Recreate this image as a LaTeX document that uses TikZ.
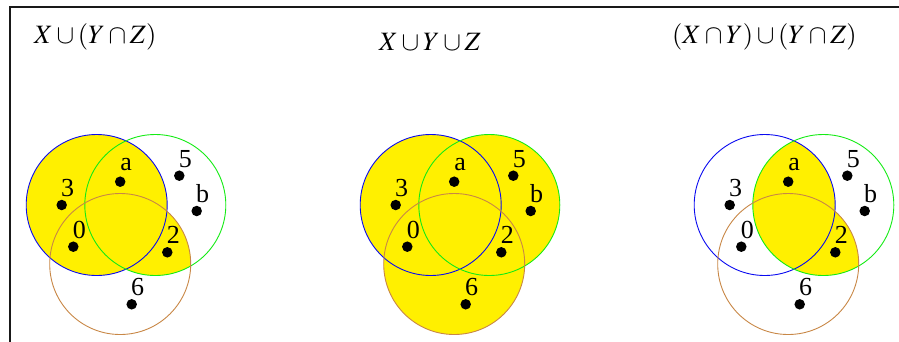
\documentclass[tikz,border=0pt]{standalone}
\usepackage{mathptmx}
\usepackage{fontspec}
\setmainfont{Liberation Serif}
\usepackage{xcolor}
\usetikzlibrary{positioning, calc}

\definecolor{vennyellow}{RGB}{255,240,0}
\definecolor{setX}{RGB}{10,10,240}
\definecolor{setY}{RGB}{20,235,20}
\definecolor{setZ}{RGB}{200,135,70}

\tikzset{
  %% Set outline
  setline/.style={draw=#1, line width=0.9pt},
  setline/.default=black,
  %% Shaded region
  shaded/.style={fill=vennyellow},
  %% Element of a set
  elem/.style={circle, fill=black, inner sep=0pt, minimum size=10.5pt},
  elemlbl/.style={inner sep=0pt, font=\fontsize{26}{30}\selectfont},
  %% Panel title
  paneltitle/.style={anchor=west, inner sep=0pt,
                     font=\fontsize{26.5}{30}\selectfont},
}

\begin{document}
\begin{tikzpicture}[x=1pt, y=-1pt]
  \useasboundingbox (0,0) rectangle (899,341);

  %% Frame
  \draw[line width=2pt, black!90] (10,342) -- (10,6.5) -- (899,6.5);

  %% Titles
  \node[paneltitle] (t1) at (34,37) {$X\cup(Y\cap Z)$};
  \node[paneltitle] (t2) at (379,42) {$X\cup Y\cup Z$};
  \node[paneltitle] (t3) at (672,37) {$(X\cap Y)\cup(Y\cap Z)$};

  %% Shading: X u (Y n Z)
  \begin{scope}[shift={(96.7,205)}]
    \fill[shaded] (0,0) circle (70.5);
    \begin{scope}
      \clip (58.6,0) circle (70.5);
      \fill[shaded] (23.5,59) circle (70.5);
    \end{scope}
  \end{scope}

  %% Shading: X u Y u Z
  \begin{scope}[shift={(430.7,205)}]
    \fill[shaded] (0,0) circle (70.5) (58.6,0) circle (70.5)
                  (23.5,59) circle (70.5);
  \end{scope}

  %% Shading: (X n Y) u (Y n Z)
  \begin{scope}[shift={(764.7,205)}]
    \clip (58.6,0) circle (70.5);
    \fill[shaded] (0,0) circle (70.5) (23.5,59) circle (70.5);
  \end{scope}

  %% Circles and elements
  \foreach \p/\cx in {1/96.7, 2/430.7, 3/764.7} {
    \begin{scope}[shift={(\cx,205)}]
      \draw[setline=setX] (0,0) circle (70.5);
      \draw[setline=setY] (58.6,0) circle (70.5);
      \draw[setline=setZ] (23.5,59) circle (70.5);
      \foreach \n/\px/\py in {a/23.5/-23.3, 5/82.6/-29.3, b/100/6,
                              3/-35/0, 0/-23.4/41.7, 2/70.6/47.3,
                              6/35/99.3} {
        \node[elem] (p\p-\n) at (\px,\py) {};
        \node[elemlbl] (l\p-\n) at ({\px+6},{\py-17}) {\n};
      }
    \end{scope}
  }

\end{tikzpicture}
\end{document}
